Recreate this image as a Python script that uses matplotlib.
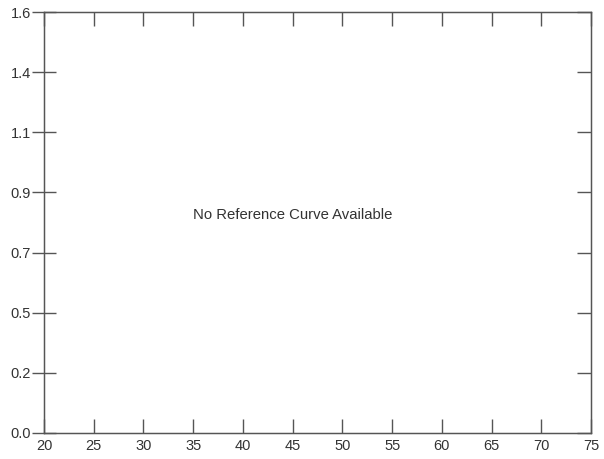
import numpy as np
import matplotlib
matplotlib.use("Agg")
import matplotlib.pyplot as plt

plt.rcParams['font.family'] = ['Liberation Sans', 'DejaVu Sans']

# axis ranges and ticks
x_ticks = [20, 25, 30, 35, 40, 45, 50, 55, 60, 65, 70, 75]
y_min, y_max = 0.0, 1.6
n_y_ticks = 8
note_text = "No Reference Curve Available"
note_pos = (35, 0.83)

fig = plt.figure(figsize=(6.04, 4.59), dpi=100)
ax = fig.add_axes([44 / 604, 1 - 433 / 459, (591 - 44) / 604, (433 - 12) / 459])

ax.set_xlim(x_ticks[0], x_ticks[-1])
ax.set_ylim(y_min, y_max)
ax.set_xticks(x_ticks)
y_ticks = np.linspace(y_min, y_max, n_y_ticks)
ax.set_yticks(y_ticks)
ax.set_yticklabels([f"{v:.1f}" for v in y_ticks])

tick_col = '#555555'
lab_col = '#333333'
for s in ax.spines.values():
    s.set_color(tick_col)
    s.set_linewidth(1.0)

ax.tick_params(axis='x', direction='in', length=10, width=1, color=tick_col,
               labelsize=10.5, labelcolor=lab_col, top=True, pad=4)
ax.tick_params(axis='y', direction='inout', length=17, width=1, color=tick_col,
               labelsize=10.5, labelcolor=lab_col, right=False, pad=1)

# right side ticks point inward only
ax_r = ax.twinx()
ax_r.set_ylim(y_min, y_max)
ax_r.set_yticks(y_ticks)
ax_r.tick_params(axis='y', direction='in', length=10, width=1, color=tick_col,
                 labelright=False)
for s in ax_r.spines.values():
    s.set_color(tick_col)

ax.text(note_pos[0], note_pos[1], note_text, ha='left', va='center',
        fontsize=10.7, color=lab_col)

fig.savefig("out.png", dpi=100)
